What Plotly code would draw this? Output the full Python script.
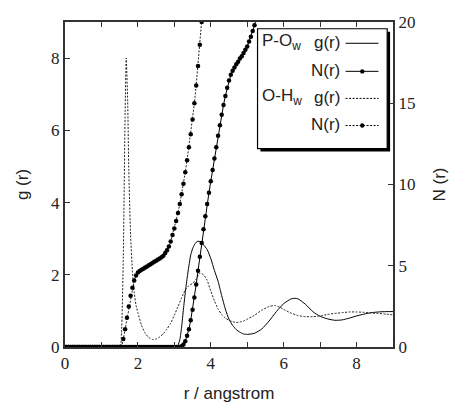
import plotly.graph_objects as go

# ---------------- data ----------------
# g(r) for P-Ow (solid)
r_g_PO = [0.0, 3.05, 3.1, 3.15, 3.2, 3.25, 3.3, 3.35, 3.4, 3.45, 3.5, 3.55, 3.6, 3.65, 3.7, 3.75, 3.8,
          3.9, 4.0, 4.1, 4.2, 4.3, 4.4, 4.5, 4.6, 4.7, 4.8, 4.9, 5.0, 5.1, 5.2,
          5.4, 5.6, 5.8, 6.0, 6.2, 6.3, 6.4,
          6.6, 6.8, 7.0, 7.2, 7.4, 7.6, 7.8, 8.0, 8.2, 8.4, 8.6, 8.8, 9.0]
g_PO = [0, 0, 0.05, 0.2, 0.55, 1.05, 1.5, 1.9, 2.25, 2.55, 2.72, 2.83, 2.9, 2.93, 2.92, 2.88, 2.83,
        2.7, 2.45, 2.12, 1.82, 1.42, 1.05, 0.77, 0.6, 0.48, 0.41, 0.36, 0.35, 0.36, 0.38,
        0.5, 0.72, 0.98, 1.2, 1.33, 1.35, 1.33,
        1.18, 0.98, 0.85, 0.78, 0.74, 0.75, 0.8, 0.86, 0.91, 0.95, 0.97, 0.98, 0.98]

# g(r) for O-Hw (dotted)
r_g_OH = [0.0, 1.5, 1.55, 1.6, 1.65, 1.68, 1.72, 1.75, 1.8, 1.85, 1.9, 1.95,
          2.0, 2.1, 2.2, 2.3, 2.4, 2.5, 2.6, 2.7, 2.8, 2.9, 3.0,
          3.1, 3.2, 3.3, 3.4, 3.5, 3.6, 3.7, 3.8, 3.9, 4.0,
          4.1, 4.2, 4.3, 4.4, 4.5, 4.6, 4.7, 4.8, 4.9, 5.0,
          5.2, 5.4, 5.6, 5.75, 5.9, 6.0,
          6.2, 6.4, 6.6, 6.8, 7.0, 7.2, 7.4, 7.6, 7.8, 8.0, 8.2, 8.4, 8.6, 8.8, 9.0]
g_OH = [0, 0, 0.4, 2.5, 6.5, 8.0, 6.8, 4.9, 3.1, 2.1, 1.5, 1.15,
        0.95, 0.6, 0.38, 0.26, 0.21, 0.22, 0.28, 0.37, 0.5, 0.66, 0.88,
        1.12, 1.36, 1.58, 1.7, 1.76, 1.88, 2.05, 2.0, 1.85, 1.55,
        1.28, 1.05, 0.9, 0.8, 0.74, 0.7, 0.68, 0.69, 0.72, 0.77,
        0.88, 1.02, 1.12, 1.15, 1.1, 1.04,
        0.94, 0.87, 0.84, 0.84, 0.86, 0.9, 0.93, 0.95, 0.97, 0.97, 0.96, 0.94, 0.93, 0.91, 0.89]

# running coordination numbers N(r), sampled every 0.05 angstrom
r_N = [0.00, 0.05, 0.10, 0.15, 0.20, 0.25, 0.30, 0.35, 0.40, 0.45,
       0.50, 0.55, 0.60, 0.65, 0.70, 0.75, 0.80, 0.85, 0.90, 0.95,
       1.00, 1.05, 1.10, 1.15, 1.20, 1.25, 1.30, 1.35, 1.40, 1.45,
       1.50, 1.55, 1.60, 1.65, 1.70, 1.75, 1.80, 1.85, 1.90, 1.95,
       2.00, 2.05, 2.10, 2.15, 2.20, 2.25, 2.30, 2.35, 2.40, 2.45,
       2.50, 2.55, 2.60, 2.65, 2.70, 2.75, 2.80, 2.85, 2.90, 2.95,
       3.00, 3.05, 3.10, 3.15, 3.20, 3.25, 3.30, 3.35, 3.40, 3.45,
       3.50, 3.55, 3.60, 3.65, 3.70, 3.75, 3.80, 3.85, 3.90, 3.95,
       4.00, 4.05, 4.10, 4.15, 4.20, 4.25, 4.30, 4.35, 4.40, 4.45,
       4.50, 4.55, 4.60, 4.65, 4.70, 4.75, 4.80, 4.85, 4.90, 4.95,
       5.00, 5.05, 5.10, 5.15, 5.20, 5.25]

N_PO = [0, 0, 0, 0, 0, 0, 0, 0, 0, 0,
        0, 0, 0, 0, 0, 0, 0, 0, 0, 0,
        0, 0, 0, 0, 0, 0, 0, 0, 0, 0,
        0, 0, 0, 0, 0, 0, 0, 0, 0, 0,
        0, 0, 0, 0, 0, 0, 0, 0, 0, 0,
        0, 0, 0, 0, 0, 0, 0, 0, 0, 0,
        0, 0, 0, 0, 0.05, 0.15, 0.35, 0.7, 1.1, 1.65,
        2.3, 3.05, 3.85, 4.7, 5.55, 6.4, 7.25, 8.05, 8.8, 9.5,
        10.2, 10.9, 11.6, 12.3, 13.0, 13.65, 14.3, 14.9, 15.45, 15.95,
        16.4, 16.75, 17.0, 17.2, 17.4, 17.55, 17.75, 17.9, 18.1, 18.3,
        18.5, 18.8, 19.1, 19.45, 19.8, 20.2]

N_OH = [0, 0, 0, 0, 0, 0, 0, 0, 0, 0,
        0, 0, 0, 0, 0, 0, 0, 0, 0, 0,
        0, 0, 0, 0, 0, 0, 0, 0, 0, 0,
        0, 0, 0.5, 1.1, 1.8, 2.5, 3.15, 3.65, 4.1, 4.4,
        4.58, 4.67, 4.75, 4.82, 4.89, 4.96, 5.03, 5.1, 5.17, 5.24,
        5.31, 5.38, 5.45, 5.52, 5.62, 5.78, 5.95, 6.18, 6.5, 6.9,
        7.3, 7.75, 8.25, 8.8, 9.4, 10.05, 10.75, 11.5, 12.3, 13.1,
        14.0, 15.0, 16.1, 17.3, 18.6, 20.0, 21.4]

x_tick_vals = [0, 2, 4, 6, 8]
g_tick_vals = [0, 2, 4, 6, 8]
N_tick_vals = [0, 5, 10, 15, 20]

legend_labels = ["P-O<sub>w</sub>", "", "O-H<sub>w</sub>", ""]
legend_kinds = ["g(r)", "N(r)", "g(r)", "N(r)"]

# ---------------- figure ----------------
W, H = 458, 412
ML, MR, MT, MB = 65, 54, 22, 54
PW, PH = W - ML - MR, H - MT - MB

def px(x):
    return (x - ML) / PW

def py(y):
    return (H - MB - y) / PH

DOT = "2px,1.5px"
fig = go.Figure()

fig.add_trace(go.Scatter(x=r_g_PO, y=g_PO, mode="lines",
                         line=dict(color="black", width=1, shape="spline", smoothing=0.6),
                         showlegend=False))
fig.add_trace(go.Scatter(x=r_g_OH, y=g_OH, mode="lines",
                         line=dict(color="#222", width=1, dash=DOT, shape="spline", smoothing=0.5),
                         showlegend=False))
fig.add_trace(go.Scatter(x=r_N, y=N_PO, mode="lines+markers", yaxis="y2",
                         line=dict(color="black", width=1),
                         marker=dict(color="black", size=4.5),
                         showlegend=False))
fig.add_trace(go.Scatter(x=r_N[:len(N_OH)], y=N_OH, mode="lines+markers", yaxis="y2",
                         line=dict(color="#222", width=1, dash=DOT),
                         marker=dict(color="black", size=4.5),
                         showlegend=False))

serif = dict(family="Liberation Serif", size=17, color="#222")
sans = dict(family="Liberation Sans", size=17, color="#222")

fig.update_layout(
    width=W, height=H,
    margin=dict(l=ML, r=MR, t=MT, b=MB, pad=0),
    paper_bgcolor="white", plot_bgcolor="white",
    showlegend=False,
    xaxis=dict(range=[0, 9], tickmode="array", tickvals=x_tick_vals,
               ticks="inside", ticklen=5, tickcolor="#333", tickwidth=1,
               minor=dict(ticks="inside", dtick=1, tick0=0, ticklen=5, tickcolor="#333", tickwidth=1,
                          showgrid=False),
               showline=True, linecolor="#333", linewidth=2, mirror="ticks",
               showgrid=False, zeroline=False, tickfont=serif,
               title=dict(text="r / angstrom", font=sans, standoff=15)),
    yaxis=dict(range=[0, 9], tickmode="array", tickvals=g_tick_vals,
               ticks="inside", ticklen=5, tickcolor="#333", tickwidth=1,
               showline=True, linecolor="#333", linewidth=2,
               showgrid=False, zeroline=False, tickfont=serif,
               title=dict(text="g (r)", font=sans, standoff=18)),
    yaxis2=dict(range=[0, 20], overlaying="y", side="right", tickmode="array", tickvals=N_tick_vals,
                ticks="inside", ticklen=5, tickcolor="#333", tickwidth=1,
                showline=True, linecolor="#333", linewidth=2,
                showgrid=False, zeroline=False, tickfont=serif,
                title=dict(text="N (r)", font=sans, standoff=19)),
)

# ---------------- custom legend (symbols on the right, as in the reference) ----------------
bx0, bx1, by0, by1 = 264, 398, 29, 153
fig.add_shape(type="rect", xref="paper", yref="paper",
              x0=px(bx0 + 3), x1=px(bx1 + 3), y0=py(by1 + 3), y1=py(by0 + 3),
              fillcolor="black", line=dict(width=0), layer="above")
fig.add_shape(type="rect", xref="paper", yref="paper",
              x0=px(bx0), x1=px(bx1), y0=py(by1), y1=py(by0),
              fillcolor="white", line=dict(color="black", width=1.2), layer="above")

rows_y = [43, 72, 100, 128]
leg_font = dict(family="Liberation Sans", size=17, color="#222")
for i, yy in enumerate(rows_y):
    if legend_labels[i]:
        fig.add_annotation(xref="paper", yref="paper", x=px(267), y=py(yy),
                           text=legend_labels[i], showarrow=False,
                           xanchor="left", yanchor="middle", font=leg_font)
    fig.add_annotation(xref="paper", yref="paper", x=px(351), y=py(yy),
                       text=legend_kinds[i], showarrow=False,
                       xanchor="right", yanchor="middle", font=leg_font)
    dash = "solid" if i < 2 else DOT
    fig.add_shape(type="line", xref="paper", yref="paper",
                  x0=px(355), x1=px(389), y0=py(yy + 1), y1=py(yy + 1),
                  line=dict(color="black", width=1, dash=dash), layer="above")
    if legend_kinds[i] == "N(r)":
        fig.add_shape(type="circle", xref="paper", yref="paper",
                      x0=px(370), x1=px(374.5), y0=py(yy + 3.3), y1=py(yy - 1.2),
                      fillcolor="black", line=dict(color="black", width=0), layer="above")

fig.write_html("out.html", config={"displayModeBar": False},
               post_script="document.body.style.margin='0';document.body.style.overflow='hidden';")
